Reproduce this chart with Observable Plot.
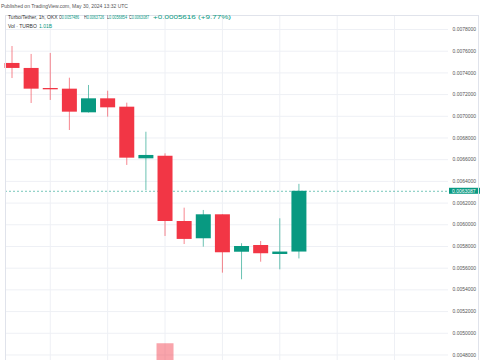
<!DOCTYPE html>
<html><head><meta charset="utf-8">
<script src="https://cdn.jsdelivr.net/npm/d3@7"></script>
<script src="https://cdn.jsdelivr.net/npm/@observablehq/plot@0.6"></script>
<style>
html,body{margin:0;padding:0;background:#fff;width:485px;height:360px;overflow:hidden;position:relative;font-family:"Liberation Sans",Arial,sans-serif;}
.abs{position:absolute;white-space:nowrap;font-size:5px;line-height:6px;transform-origin:0 50%;}
#frame{position:absolute;left:5px;top:15px;width:474px;height:360px;border:1px solid #e0e3eb;box-sizing:border-box;pointer-events:none;}
</style></head>
<body>
<div id="chart" style="position:absolute;left:0;top:0;"></div>
<div id="vol" style="position:absolute;left:0;top:300px;"></div>
<div id="frame"></div>
<div id="legend"></div>
<script>
// ---- data ----
const idx   = [0,1,2,3,4,5,6,7,8,9,10,11,12,13,14,15];
const open  = [0.007487,0.007441,0.007256,0.007250,0.007032,0.007161,0.007084,0.006608,0.006632,0.006030,0.005871,0.006092,0.005747,0.005809,0.005726,0.0057486];
const high  = [0.007643,0.007570,0.007579,0.007351,0.007284,0.007231,0.007121,0.006853,0.006654,0.006153,0.006132,0.006092,0.005825,0.005846,0.006055,0.0063726];
const low   = [0.007348,0.007118,0.007146,0.006869,0.007030,0.006992,0.006547,0.006316,0.005892,0.005818,0.005794,0.005554,0.005493,0.005655,0.005585,0.0056854];
const close = [0.007441,0.007250,0.007244,0.007038,0.007161,0.007078,0.006614,0.006639,0.006030,0.005865,0.006092,0.005742,0.005800,0.005733,0.0057486,0.0063087];
const volume = [null,null,null,null,null,null,null,null,2.27,null,null,null,null,null,null,1.01]; // billions
const yTicks = [0.0048,0.0050,0.0052,0.0054,0.0056,0.0058,0.0060,0.0062,0.0064,0.0066,0.0068,0.0070,0.0072,0.0074,0.0076,0.0078];
const xGrid = [2,5,8,11,14,17,20];
const publishedText = "Published on TradingView.com, May 30, 2024 13:32 UTC";
const symbolText = "Turbo/Tether, 1h, OKX";
const ohlcLabels = ["O","H","L","C"];
const ohlcValues = ["0.0057486","0.0063726","0.0056854","0.0063087"];
const changeText = "+0.0005616 (+9.77%)";
const volLabel = "Vol · TURBO";
const volValue = "1.01B";

const green = "#089981", red = "#F23645";
const data = idx.map((i,k)=>({i,o:open[k],h:high[k],l:low[k],c:close[k],v:volume[k]}));
const up = data.filter(d=>d.c>=d.o), down = data.filter(d=>d.c<d.o);
const lastClose = close[close.length-1];
const xOpts = {domain:[-0.34,22.82], axis:null};
const W = 485, mL = 5, mR = 37;

const chart = Plot.plot({
  width:W, height:360, marginLeft:mL, marginRight:mR, marginTop:15, marginBottom:0,
  x:xOpts,
  y:{domain:[0.004749,0.007929], axis:null},
  style:{background:"transparent", fontFamily:"Liberation Sans, Arial, sans-serif", overflow:"visible"},
  marks:[
    Plot.gridY(yTicks,{stroke:"#eef0f5", strokeOpacity:1}),
    Plot.gridX(xGrid,{stroke:"#eef0f5", strokeOpacity:1}),
    Plot.axisY(yTicks,{anchor:"right", tickSize:0, tickPadding:4, tickFormat:d3.format(".7f"), fontSize:5, fill:"#555", label:null}),
    Plot.ruleY([lastClose],{stroke:green, strokeOpacity:0.55, strokeDasharray:"2,2"}),
    Plot.ruleX(up,{x:"i", y1:"l", y2:"h", stroke:green, strokeOpacity:0.6}),
    Plot.ruleX(down,{x:"i", y1:"l", y2:"h", stroke:red, strokeOpacity:0.6}),
    Plot.ruleX(up,{x:"i", y1:"o", y2:"c", stroke:green, strokeWidth:15}),
    Plot.ruleX(down,{x:"i", y1:"o", y2:"c", stroke:red, strokeWidth:15})
  ]
});
document.getElementById("chart").appendChild(chart);

// last price label in the price scale
const yy = chart.scale("y").apply(lastClose);
const xr = W - mR;
const g = d3.select(chart).append("g");
g.append("rect").attr("x", xr+1).attr("y", yy-3).attr("width", 31).attr("height", 6).attr("fill", green);
g.append("text").attr("x", xr+4).attr("y", yy).attr("dy","0.35em").attr("fill","#fff")
  .attr("text-anchor","start").attr("font-size",5)
  .attr("font-family","Liberation Sans, Arial, sans-serif").text(d3.format(".7f")(lastClose));

// volume pane (baseline below the visible area)
const volData = data.filter(d=>d.v!=null);
const volChart = Plot.plot({
  width:W, height:100, marginLeft:mL, marginRight:mR, marginTop:0, marginBottom:0,
  x:xOpts, y:{domain:[0,4], axis:null},
  style:{background:"transparent"},
  marks:[
    Plot.ruleX(volData.filter(d=>d.c>=d.o),{x:"i", y1:0, y2:"v", stroke:green, strokeOpacity:0.45, strokeWidth:17}),
    Plot.ruleX(volData.filter(d=>d.c<d.o),{x:"i", y1:0, y2:"v", stroke:red, strokeOpacity:0.45, strokeWidth:17})
  ]
});
document.getElementById("vol").appendChild(volChart);

// header texts
const leg = document.getElementById("legend");
function span(txt, x, y, color, targetW){
  const s=document.createElement("div"); s.className="abs"; s.textContent=txt;
  s.style.left=x+"px"; s.style.top=y+"px"; s.style.color=color; leg.appendChild(s);
  return s;
}
function fit(s, targetW){
  const w = s.getBoundingClientRect().width;
  if (w>0) s.style.transform = "scaleX("+(targetW/w)+")";
}
span(publishedText, 1, 3, "#555");
span(symbolText, 8, 14, "#333");
const ox=[59,84,107,129];
ohlcLabels.forEach((l,k)=>{
  const s=span("",ox[k],14,"#333");
  s.innerHTML = l + '<span style="color:'+green+'">'+ohlcValues[k]+'</span>';
  fit(s, 20);
});
fit(span(changeText, 153, 14, green), 78);
span(volLabel, 8, 23, "#333");
span(volValue, 39, 23, green);
</script>
</body></html>
